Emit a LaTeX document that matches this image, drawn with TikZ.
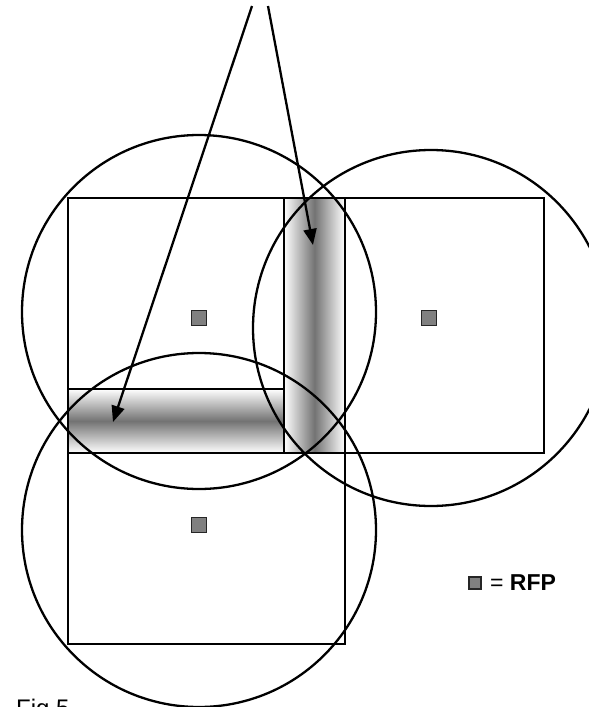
\documentclass[tikz,border=0pt]{standalone}
\usepackage{fontspec}
\setmainfont{Liberation Sans}
\usetikzlibrary{arrows.meta}
\begin{document}
\begin{tikzpicture}[x=1pt,y=-1pt,line width=2.3pt,
  rfp/.style={draw=black!85,line width=1.3pt,fill=black!50,minimum size=15pt,inner sep=0pt},
  rfpsmall/.style={rfp,minimum size=12pt,line width=1.1pt},
  ptr/.style={-{Triangle[length=16pt,width=13pt]}},
  lbl/.style={inner sep=0pt,font=\fontsize{23}{27}\selectfont}]
\useasboundingbox (0,0) rectangle (589,707);
\clip (0,0) rectangle (589,707);
% overlap shading
\shade[left color=white,right color=white,middle color=black!55] (284,198) rectangle (345,453);
\shade[top color=white,bottom color=white,middle color=black!55] (68,389) rectangle (284,453);
% cell outlines
\draw (68,198) rectangle (544,453);
\draw (284,198) -- (284,453);
\draw (345,198) -- (345,644) -- (68,644) -- (68,453);
\draw (68,389) -- (284,389);
% coverage circles
\draw (199,312) circle (177);
\draw (431,328) circle (178);
\draw (199,530) circle (177);
% reference points
\node[rfp] (p1) at (199,318) {};
\node[rfp] (p2) at (429,318) {};
\node[rfp] (p3) at (199,525) {};
% arrows
\coordinate (a1s) at (252,6);
\coordinate (a1e) at (113,422);
\coordinate (a2s) at (268,6);
\coordinate (a2e) at (313,245);
\draw[ptr] (a1s) -- (a1e);
\draw[ptr] (a2s) -- (a2e);
% legend
\node[rfpsmall] (leg) at (475,583) {};
\node[lbl,anchor=base west] (legtxt) at (489,590) {= \textbf{RFP}};
\node[lbl,anchor=base west,font=\fontsize{24}{28}\selectfont] (fig) at (15,716) {Fig.5};
\end{tikzpicture}
\end{document}
